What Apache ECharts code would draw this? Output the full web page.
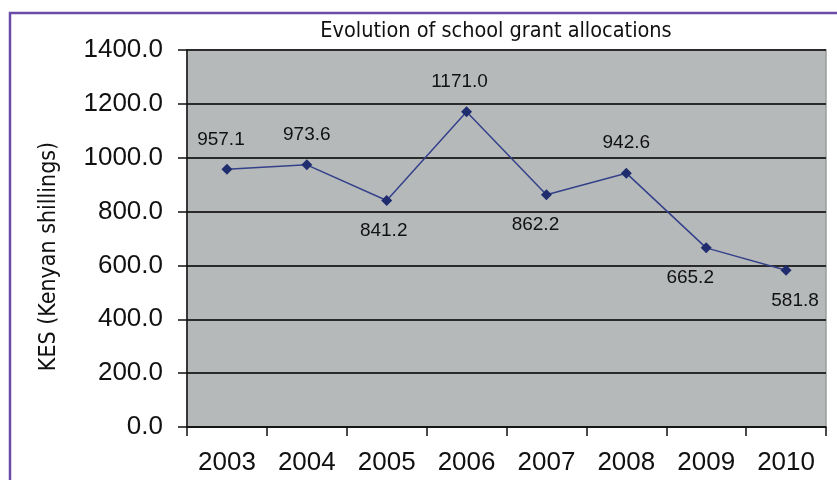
<!DOCTYPE html>
<html>
<head>
<meta charset="utf-8">
<script src="https://cdn.jsdelivr.net/npm/echarts@6/dist/echarts.min.js"></script>
<style>
	html, body {
		margin: 0;
		padding: 0;
		background: #ffffff;
	}
	#chartLineBox {
		width: 837px;
		height: 480px;
	}
</style>
</head>
<body>
<div id="chartLineBox"></div>
<script>
	// 数据
	var years = ['2003', '2004', '2005', '2006', '2007', '2008', '2009', '2010'];
	var grants = [957.1, 973.6, 841.2, 1171.0, 862.2, 942.6, 665.2, 581.8];
	var yTicks = [0, 200, 400, 600, 800, 1000, 1200, 1400];

	// label above or below each point
	var labelSide = ['top', 'top', 'bottom', 'top', 'bottom', 'top', 'bottom', 'bottom'];
	var labelShift = [-6, 0, -3, -7, -11, 0, -16, 9];

	var narrowFont = '"DejaVu Sans Condensed", "Liberation Sans Narrow", "Roboto Condensed", "Noto Sans", sans-serif';

	var chartLine = echarts.init(document.getElementById('chartLineBox'));

	var option = {
		animation: false,
		title: {
			text: 'Evolution of school grant allocations',
			left: 491,
			top: 15,
			textAlign: 'center',
			textStyle: {
				fontFamily: narrowFont,
				fontWeight: 'normal',
				fontSize: 21.5,
				color: '#111'
			}
		},
		graphic: [{
			type: 'rect',
			silent: true,
			z: 100,
			shape: { x: 10, y: 13, width: 900, height: 600 },
			style: { fill: 'none', stroke: '#6b4ca8', lineWidth: 2.5 }
		}],
		grid: {
			left: 187,
			right: 11,
			top: 50,
			bottom: 53,
			show: true,
			backgroundColor: '#b6b9ba',
			borderColor: '#9a9d9e',
			borderWidth: 1.5
		},
		xAxis: {
			type: 'category',
			data: years,
			boundaryGap: true,
			axisLine: { lineStyle: { color: '#111', width: 1.5 } },
			axisTick: { show: true, inside: false, length: 9, alignWithLabel: false, lineStyle: { color: '#111', width: 1.5 } },
			axisLabel: {
				margin: 23,
				fontFamily: 'Liberation Sans',
				fontSize: 26,
				color: '#111'
			},
			splitLine: { show: false }
		},
		yAxis: {
			type: 'value',
			min: yTicks[0],
			max: yTicks[yTicks.length - 1],
			interval: 200,
			name: 'KES (Kenyan shillings)',
			nameLocation: 'middle',
			nameGap: 126,
			nameRotate: 90,
			nameTextStyle: {
				fontFamily: narrowFont,
				fontSize: 23,
				color: '#111',
				padding: [0, 36, 0, 0]
			},
			axisLine: { show: true, lineStyle: { color: '#111', width: 1.5 } },
			axisTick: { show: true, length: 9, lineStyle: { color: '#111', width: 1.5 } },
			axisLabel: {
				margin: 24,
				fontFamily: 'Liberation Sans',
				fontSize: 26,
				color: '#111',
				formatter: function (v) { return v.toFixed(1); }
			},
			splitLine: { show: true, lineStyle: { color: '#2a2a2a', width: 2 } }
		},
		series: [{
			type: 'line',
			data: grants.map(function (v, i) {
				return {
					value: v,
					label: { position: labelSide[i], offset: [labelShift[i], 0] }
				};
			}),
			symbol: 'diamond',
			symbolSize: 11,
			lineStyle: { color: '#34418a', width: 1.5 },
			itemStyle: { color: '#1f2d6e' },
			label: {
				show: true,
				distance: 15,
				fontFamily: 'Liberation Sans',
				fontSize: 19,
				color: '#111',
				formatter: function (p) { return p.value.toFixed(1); }
			}
		}]
	};

	chartLine.setOption(option);
</script>
</body>
</html>
